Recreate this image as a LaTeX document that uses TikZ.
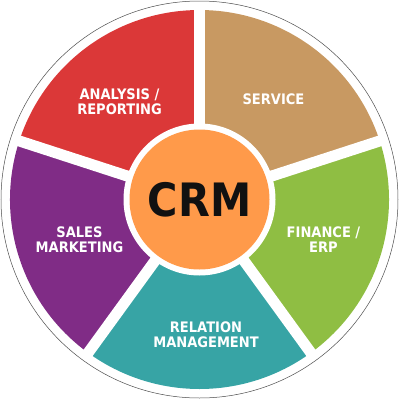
\documentclass[tikz,border=0pt]{standalone}
\usepackage{fontspec}
\setmainfont{DejaVu Sans}
\definecolor{cred}{HTML}{DB3838}
\definecolor{ctan}{HTML}{C89962}
\definecolor{cgreen}{HTML}{8FBE43}
\definecolor{cteal}{HTML}{37A4A5}
\definecolor{cpurple}{HTML}{802C86}
\definecolor{corange}{HTML}{FF9A4A}
\definecolor{ctext}{HTML}{111111}
\newfontfamily\lblfont[FakeStretch=0.9]{DejaVu Sans Bold}
\begin{document}
\begin{tikzpicture}[x=1pt,y=-1pt,
  lbl/.style={text=white,font=\lblfont\fontsize{14.5}{15}\selectfont,align=center,inner sep=0pt},
  gapline/.style={white,line width=11pt}]
\useasboundingbox (0,0) rectangle (400,400);
\coordinate (c) at (199.5,199.5);
\draw[black!70,line width=0.5pt] (c) circle (198.5);
\fill[cred] (c) -- ++(-162:189.5) arc[start angle=-162,end angle=-90,radius=189.5] -- cycle;
\fill[ctan] (c) -- ++(-90:189.5) arc[start angle=-90,end angle=-18,radius=189.5] -- cycle;
\fill[cgreen] (c) -- ++(-18:189.5) arc[start angle=-18,end angle=54,radius=189.5] -- cycle;
\fill[cteal] (c) -- ++(54:189.5) arc[start angle=54,end angle=126,radius=189.5] -- cycle;
\fill[cpurple] (c) -- ++(126:189.5) arc[start angle=126,end angle=198,radius=189.5] -- cycle;
\foreach \a in {-90,-18,54,126,198} \draw[gapline] (c) -- ++(\a:192);
\fill[white] (c) circle (76);
\node[circle,fill=corange,minimum size=140pt,inner sep=0pt,text=ctext,font=\lblfont\fontsize{46}{48}\selectfont] (crm) at (c) {CRM};
\node[lbl] (t1) at (119.5,101.5) {ANALYSIS /\\REPORTING};
\node[lbl] (t2) at (273.5,99.5) {SERVICE};
\node[lbl] (t3) at (323.5,239.5) {FINANCE /\\ERP};
\node[lbl] (t4) at (206,334.5) {RELATION\\MANAGEMENT};
\node[lbl] (t5) at (79.5,239.5) {SALES\\MARKETING};
\end{tikzpicture}
\end{document}
